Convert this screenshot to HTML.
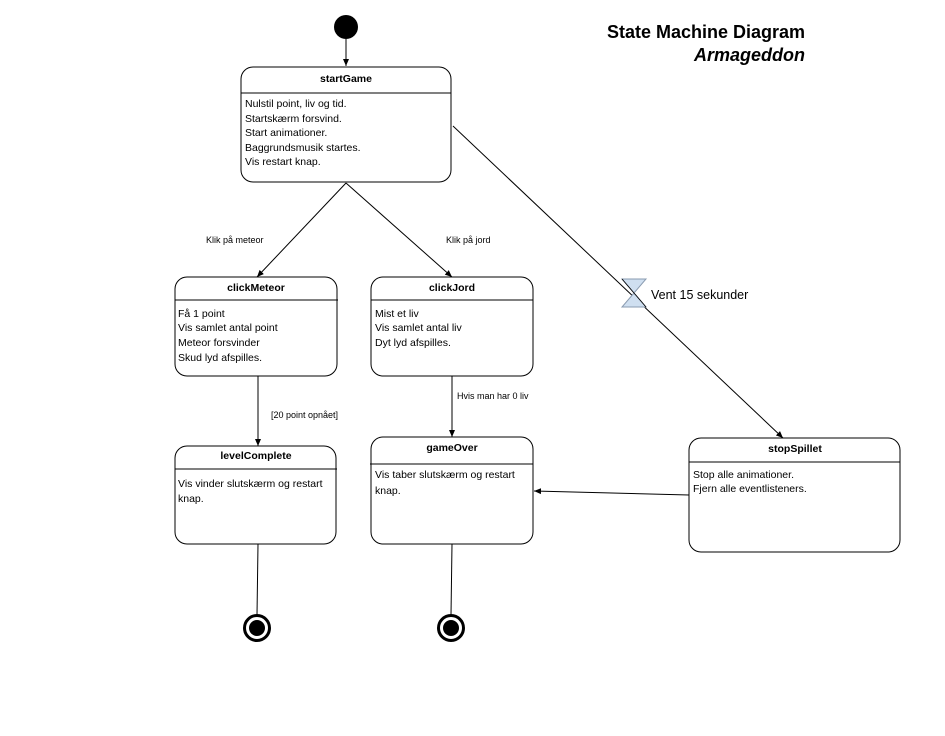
<!DOCTYPE html>
<html><head><meta charset="utf-8"><style>
html,body{margin:0;padding:0;background:#fff;}
svg{display:block;font-family:"Liberation Sans",sans-serif;}
</style></head><body>
<svg width="945" height="736" viewBox="0 0 945 736" xmlns="http://www.w3.org/2000/svg">
<defs>
<marker id="a" markerWidth="8" markerHeight="8" refX="7" refY="4" orient="auto" markerUnits="userSpaceOnUse">
<path d="M0,1 L7,4 L0,7 Z" fill="#000"/>
</marker>
</defs>
<rect width="945" height="736" fill="#fff"/>
<!-- title -->
<text x="805" y="38" text-anchor="end" font-size="18" font-weight="bold">State Machine Diagram</text>
<text x="805" y="61" text-anchor="end" font-size="18" font-weight="bold" font-style="italic">Armageddon</text>

<!-- initial -->
<circle cx="346" cy="27" r="12" fill="#000"/>
<g stroke="#000" stroke-width="1" fill="none">
<line x1="346" y1="39" x2="346" y2="66" marker-end="url(#a)"/>
<line x1="346" y1="183" x2="257" y2="277" marker-end="url(#a)"/>
<line x1="346" y1="183" x2="452" y2="277" marker-end="url(#a)"/>
<line x1="453" y1="126" x2="783" y2="438" marker-end="url(#a)"/>
<line x1="258" y1="376" x2="258" y2="446" marker-end="url(#a)"/>
<line x1="452" y1="376" x2="452" y2="437" marker-end="url(#a)"/>
<line x1="689" y1="495" x2="534" y2="491" marker-end="url(#a)"/>
<line x1="258" y1="544" x2="257" y2="615"/>
<line x1="452" y1="544" x2="451" y2="615"/>
</g>

<!-- boxes -->
<g stroke="#000" stroke-width="1" fill="#fff">
<rect x="241" y="67" width="210" height="115" rx="12"/>
<rect x="175" y="277" width="162" height="99" rx="12"/>
<rect x="371" y="277" width="162" height="99" rx="12"/>
<rect x="175" y="446" width="161" height="98" rx="12"/>
<rect x="371" y="437" width="162" height="107" rx="12"/>
<rect x="689" y="438" width="211" height="114" rx="12"/>
<line x1="241" y1="93" x2="451" y2="93"/>
<line x1="175" y1="300" x2="338" y2="300"/>
<line x1="371" y1="300" x2="533" y2="300"/>
<line x1="175" y1="469" x2="337" y2="469"/>
<line x1="370" y1="464" x2="533" y2="464"/>
<line x1="689" y1="462" x2="900" y2="462"/>
</g>

<g font-size="10.5" fill="#000">
<text x="346" y="82" text-anchor="middle" font-weight="bold">startGame</text>
<text x="245" y="107">Nulstil point, liv og tid.</text>
<text x="245" y="122">Startskærm forsvind.</text>
<text x="245" y="136">Start animationer.</text>
<text x="245" y="151">Baggrundsmusik startes.</text>
<text x="245" y="165">Vis restart knap.</text>

<text x="256" y="291" text-anchor="middle" font-weight="bold">clickMeteor</text>
<text x="178" y="317">Få 1 point</text>
<text x="178" y="331">Vis samlet antal point</text>
<text x="178" y="346">Meteor forsvinder</text>
<text x="178" y="361">Skud lyd afspilles.</text>

<text x="452" y="291" text-anchor="middle" font-weight="bold">clickJord</text>
<text x="375" y="317">Mist et liv</text>
<text x="375" y="331">Vis samlet antal liv</text>
<text x="375" y="346">Dyt lyd afspilles.</text>

<text x="256" y="459" text-anchor="middle" font-weight="bold">levelComplete</text>
<text x="178" y="487">Vis vinder slutskærm og restart</text>
<text x="178" y="502">knap.</text>

<text x="452" y="451" text-anchor="middle" font-weight="bold">gameOver</text>
<text x="375" y="478">Vis taber slutskærm og restart</text>
<text x="375" y="494">knap.</text>

<text x="795" y="452" text-anchor="middle" font-weight="bold">stopSpillet</text>
<text x="693" y="478">Stop alle animationer.</text>
<text x="693" y="492">Fjern alle eventlisteners.</text>
</g>

<g font-size="9" fill="#000">
<text x="206" y="243">Klik på meteor</text>
<text x="446" y="243">Klik på jord</text>
<text x="271" y="418">[20 point opnået]</text>
<text x="457" y="399">Hvis man har 0 liv</text>
</g>

<!-- hourglass -->
<path d="M622,279 L646,279 L634,293 Z M622,307 L646,307 L634,293 Z" fill="#cfdff0" stroke="#8a9bb0" stroke-width="1"/>
<line x1="622" y1="279" x2="646" y2="307" stroke="#000" stroke-width="0.8"/>
<text x="651" y="299" font-size="12.5">Vent 15 sekunder</text>

<!-- finals -->
<circle cx="257" cy="628" r="12.5" fill="#fff" stroke="#000" stroke-width="3"/>
<circle cx="257" cy="628" r="8" fill="#000"/>
<circle cx="451" cy="628" r="12.5" fill="#fff" stroke="#000" stroke-width="3"/>
<circle cx="451" cy="628" r="8" fill="#000"/>
</svg>
</body></html>
